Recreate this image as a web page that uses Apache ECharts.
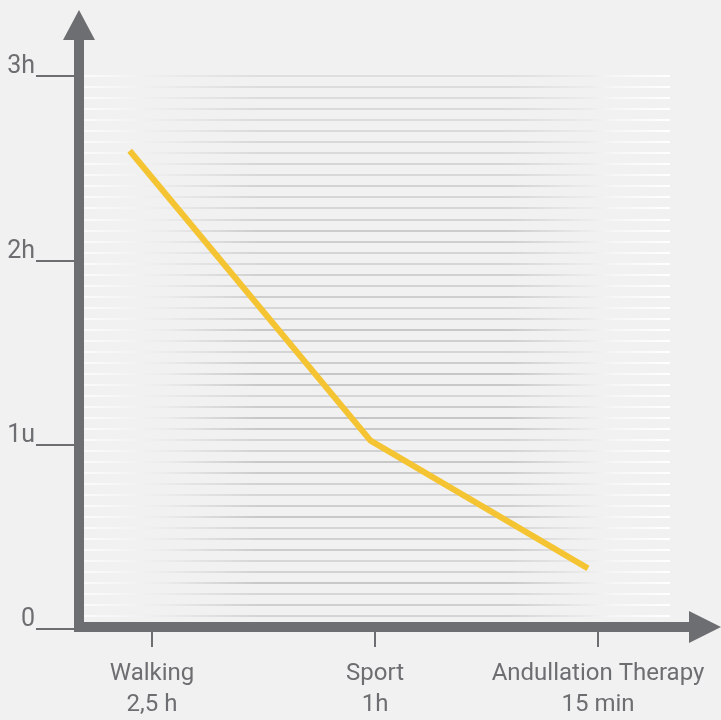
<!DOCTYPE html>
<html>
<head>
<meta charset="utf-8">
<script src="https://cdn.jsdelivr.net/npm/echarts@6/dist/echarts.min.js"></script>
<style>
  html, body { margin: 0; padding: 0; background: #f1f1f1; }
  #chart { width: 721px; height: 720px; }
</style>
</head>
<body>
<div id="chart"></div>
<script>
// ---- data ----
var categories = ['Walking\n2,5 h', 'Sport\n1h', 'Andullation Therapy\n15 min'];
var yTickLabels = ['0', '1u', '2h', '3h'];
// line points: x in category units (0 = Walking), y in hours
var lineX = [-0.10, 0.98, 1.955];
var lineY = [2.59, 1.0, 0.30];
var stripeCount = 50;

// ---- style ----
var AXIS = '#6d6e71';
var FONT = "Roboto, 'Liberation Sans', sans-serif";
var stripeGrays = [212, 206, 214, 200, 210, 214, 204, 208, 212, 200,
                   206, 214, 210, 204, 200, 210, 212, 200, 198, 204,
                   214, 200, 198, 204, 212, 206, 200, 212, 214, 206,
                   210, 208, 214, 212, 206, 204, 212, 214, 214, 210,
                   216, 214, 218, 216, 218, 220, 218, 220, 220, 222];

function stripeGradient(g) {
  var c = 'rgb(' + g + ',' + g + ',' + g + ')';
  return new echarts.graphic.LinearGradient(0, 0, 1, 0, [
    { offset: 0, color: '#fbfbfb' },
    { offset: 0.06, color: '#f6f6f6' },
    { offset: 0.14, color: '#ececec' },
    { offset: 0.3, color: c },
    { offset: 0.72, color: c },
    { offset: 0.86, color: '#ececec' },
    { offset: 0.9, color: '#f6f6f6' },
    { offset: 1, color: '#ffffff' }
  ]);
}
var stripeColors = stripeGrays.map(stripeGradient);

var linePoints = lineX.map(function (x, i) { return [x, lineY[i]]; });

var chart = echarts.init(document.getElementById('chart'), null, { renderer: 'canvas' });
chart.setOption({
  backgroundColor: '#f1f1f1',
  animation: false,
  grid: [
    { left: 79, right: 16, top: 25, bottom: 93 },      // 0 frame with arrows
    { left: 84, right: 51, top: 76, bottom: 104 },     // 1 stripes
    { left: 40.5, right: 11.5, top: 76, bottom: 91 },  // 2 categories + line
    { left: 74, right: 16, top: 76, bottom: 91 }       // 3 y ticks
  ],
  xAxis: [
    { gridIndex: 0, type: 'value', min: 0, max: 1,
      axisLine: { show: true, onZero: false, symbol: ['none', 'triangle'], symbolSize: [32, 32],
        lineStyle: { color: AXIS, width: 10, cap: 'square' } },
      axisTick: { show: false }, axisLabel: { show: false }, splitLine: { show: false }, z: 10 },
    { gridIndex: 1, type: 'value', min: 0, max: 1, show: false },
    { gridIndex: 2, type: 'category', data: categories, boundaryGap: true, offset: 4,
      axisLine: { show: false },
      axisTick: { show: true, alignWithLabel: true, length: 24, interval: 0, lineStyle: { color: AXIS, width: 2 } },
      axisLabel: { interval: 0, margin: 31, color: AXIS, fontFamily: FONT, fontSize: 24, lineHeight: 31, align: 'center' },
      splitLine: { show: false } },
    { gridIndex: 2, type: 'value', min: -0.5, max: 2.5, show: false },
    { gridIndex: 3, type: 'value', min: 0, max: 1, show: false }
  ],
  yAxis: [
    { gridIndex: 0, type: 'value', min: 0, max: 1,
      axisLine: { show: true, onZero: false, symbol: ['none', 'triangle'], symbolSize: [32, 30],
        lineStyle: { color: AXIS, width: 10, cap: 'square' } },
      axisTick: { show: false }, axisLabel: { show: false }, splitLine: { show: false }, z: 10 },
    { gridIndex: 1, type: 'value', min: 0, max: stripeCount - 1, interval: 1,
      axisLine: { show: false }, axisTick: { show: false }, axisLabel: { show: false },
      splitLine: { show: true, lineStyle: { color: stripeColors, width: 2 } } },
    { gridIndex: 2, type: 'value', min: 0, max: 3, show: false },
    { gridIndex: 3, type: 'value', min: 0, max: 3, interval: 1,
      axisLine: { show: false },
      axisTick: { show: true, length: 38, lineStyle: { color: AXIS, width: 2 } },
      axisLabel: { margin: 39, color: AXIS, fontFamily: FONT, fontSize: 25, lineHeight: 18,
        verticalAlign: 'bottom',
        formatter: function (v) { return yTickLabels[Math.round(v)]; } },
      splitLine: { show: false } }
  ],
  series: [
    { type: 'line', xAxisIndex: 3, yAxisIndex: 2, data: linePoints,
      symbol: 'none', lineStyle: { color: '#f4c432', width: 6, cap: 'butt', join: 'miter' }, z: 5 }
  ]
});
</script>
</body>
</html>
